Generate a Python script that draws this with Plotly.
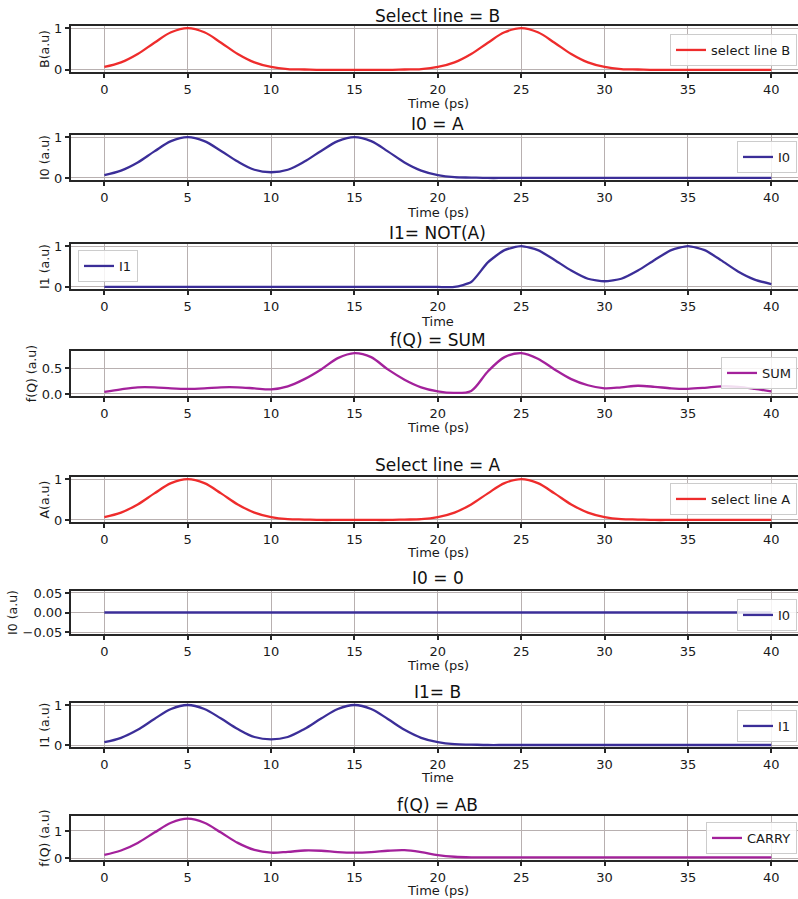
import plotly.graph_objects as go

W, H = 798, 899

time_ps = list(range(41))

select_b = [0.07, 0.18, 0.38, 0.65, 0.90, 1.00, 0.90, 0.65, 0.38, 0.18, 0.07,
            0.02, 0.01, 0.00, 0.00, 0.00, 0.00, 0.00, 0.01, 0.02, 0.07,
            0.18, 0.38, 0.65, 0.90, 1.00, 0.90, 0.65, 0.38, 0.18, 0.07,
            0.02, 0.01, 0.00, 0.00, 0.00, 0.00, 0.00, 0.00, 0.00, 0.00]
i0_a = [0.07, 0.18, 0.38, 0.65, 0.90, 1.00, 0.90, 0.66, 0.40, 0.20, 0.14,
        0.20, 0.40, 0.66, 0.90, 1.00, 0.90, 0.65, 0.38, 0.18, 0.07,
        0.02, 0.01, 0.00, 0.00, 0.00, 0.00, 0.00, 0.00, 0.00, 0.00,
        0.00, 0.00, 0.00, 0.00, 0.00, 0.00, 0.00, 0.00, 0.00, 0.00]
i1_not_a = [0.00, 0.00, 0.00, 0.00, 0.00, 0.00, 0.00, 0.00, 0.00, 0.00, 0.00,
            0.00, 0.00, 0.00, 0.00, 0.00, 0.00, 0.00, 0.00, 0.00, 0.00,
            0.00, 0.12, 0.60, 0.90, 1.00, 0.90, 0.66, 0.40, 0.20, 0.14,
            0.20, 0.40, 0.66, 0.90, 1.00, 0.90, 0.65, 0.38, 0.18, 0.07]
sum_q = [0.04, 0.09, 0.13, 0.13, 0.11, 0.10, 0.11, 0.13, 0.13, 0.11, 0.09,
         0.15, 0.29, 0.48, 0.70, 0.80, 0.72, 0.48, 0.28, 0.13, 0.05,
         0.02, 0.06, 0.44, 0.72, 0.80, 0.69, 0.48, 0.29, 0.17, 0.11,
         0.13, 0.16, 0.14, 0.11, 0.10, 0.12, 0.15, 0.14, 0.10, 0.05]
select_a = [0.07, 0.18, 0.38, 0.65, 0.90, 1.00, 0.90, 0.65, 0.38, 0.18, 0.07,
            0.02, 0.01, 0.00, 0.00, 0.00, 0.00, 0.00, 0.01, 0.02, 0.07,
            0.18, 0.38, 0.65, 0.90, 1.00, 0.90, 0.65, 0.38, 0.18, 0.07,
            0.02, 0.01, 0.00, 0.00, 0.00, 0.00, 0.00, 0.00, 0.00, 0.00]
i0_zero = [0.00, 0.00, 0.00, 0.00, 0.00, 0.00, 0.00, 0.00, 0.00, 0.00, 0.00,
           0.00, 0.00, 0.00, 0.00, 0.00, 0.00, 0.00, 0.00, 0.00, 0.00,
           0.00, 0.00, 0.00, 0.00, 0.00, 0.00, 0.00, 0.00, 0.00, 0.00,
           0.00, 0.00, 0.00, 0.00, 0.00, 0.00, 0.00, 0.00, 0.00, 0.00]
i1_b = [0.07, 0.18, 0.38, 0.65, 0.90, 1.00, 0.90, 0.66, 0.40, 0.20, 0.14,
        0.20, 0.40, 0.66, 0.90, 1.00, 0.90, 0.65, 0.38, 0.18, 0.07,
        0.02, 0.01, 0.00, 0.00, 0.00, 0.00, 0.00, 0.00, 0.00, 0.00,
        0.00, 0.00, 0.00, 0.00, 0.00, 0.00, 0.00, 0.00, 0.00, 0.00]
carry = [0.12, 0.28, 0.56, 0.94, 1.30, 1.45, 1.30, 0.94, 0.56, 0.30, 0.20,
         0.23, 0.28, 0.27, 0.22, 0.20, 0.22, 0.27, 0.29, 0.22, 0.11,
         0.05, 0.03, 0.03, 0.03, 0.03, 0.03, 0.03, 0.03, 0.03, 0.03,
         0.03, 0.03, 0.03, 0.03, 0.03, 0.03, 0.03, 0.03, 0.03, 0.03]

titles = ["Select line = B", "I0 = A", "I1= NOT(A)", "f(Q) = SUM",
          "Select line = A", "I0 = 0", "I1= B", "f(Q) = AB"]
y_labels = ["B(a.u)", "I0 (a.u)", "I1 (a.u)", "f(Q) (a.u)",
            "A(a.u)", "I0 (a.u)", "I1 (a.u)", "f(Q) (a.u)"]
x_labels = ["Time (ps)", "Time (ps)", "Time", "Time (ps)",
            "Time (ps)", "Time (ps)", "Time", "Time (ps)"]
series_names = ["select line B", "I0", "I1", "SUM",
                "select line A", "I0", "I1", "CARRY"]
series_values = [select_b, i0_a, i1_not_a, sum_q, select_a, i0_zero, i1_b, carry]
x_ticks = [0, 5, 10, 15, 20, 25, 30, 35, 40]
y_tick_vals = [[0, 1], [0, 1], [0, 1], [0, 0.5], [0, 1], [-0.05, 0, 0.05], [0, 1], [0, 1]]
y_tick_text = [["0", "1"], ["0", "1"], ["0", "1"], ["0.0", "0.5"], ["0", "1"],
               ["\u22120.05", "0.00", "0.05"], ["0", "1"], ["0", "1"]]

RED, BLUE, PURPLE = "#ee2c2c", "#3b2e98", "#a3219b"
colors = [RED, BLUE, BLUE, PURPLE, RED, BLUE, BLUE, PURPLE]
smooth = [1.0, 1.0, 0.6, 0.9, 1.0, 1.0, 1.0, 1.0]
y_ranges = [[-0.05, 1.05], [-0.05, 1.05], [-0.05, 1.05], [-0.04, 0.84],
            [-0.05, 1.05], [-0.055, 0.055], [-0.05, 1.05], [-0.07, 1.55]]
# panel frames in pixels (top, bottom)
frames = [(26, 72), (135, 180), (244, 289), (351, 396),
          (477, 522), (591, 634), (703, 747), (816, 860)]
title_px = [16, 124, 233, 340, 465, 578, 692, 805]
xlabel_px = [104, 212, 321, 427, 552, 665, 777, 890]
legend_top_px = [34, 141, 250, 357, 483, 599, 710, 822]
legend_left = [False, False, True, False, False, False, False, False]

L = 71
FONT = "DejaVu Sans"
GRID = "#b8b0b0"
AX = "#262626"

fig = go.Figure()
layout = dict(
    width=W, height=H,
    margin=dict(l=L, r=0, t=0, b=0, autoexpand=False),
    paper_bgcolor="white", plot_bgcolor="white",
    font=dict(family=FONT, size=12, color="#1a1a1a"),
    annotations=[],
)

for i in range(8):
    n = i + 1
    xa = "x" if n == 1 else f"x{n}"
    ya = "y" if n == 1 else f"y{n}"
    lg = "legend" if n == 1 else f"legend{n}"
    fig.add_trace(go.Scatter(
        x=time_ps, y=series_values[i], mode="lines", name=series_names[i],
        line=dict(color=colors[i], width=2.3, shape="spline", smoothing=smooth[i]),
        xaxis=xa, yaxis=ya, legend=lg, showlegend=True,
    ))
    top, bot = frames[i]
    layout[f"xaxis{n}"] = dict(
        domain=[0, 1], range=[-2, 41.6], anchor=ya, automargin=False,
        tickvals=x_ticks, ticks="outside", ticklen=4, tickwidth=1.5, tickcolor=AX,
        showline=True, linecolor=AX, linewidth=2, mirror=True,
        showgrid=True, gridcolor=GRID, gridwidth=1.2, zeroline=False,
        tickfont=dict(size=13, family=FONT, color="#1a1a1a"),
    )
    layout[f"yaxis{n}"] = dict(
        domain=[1 - bot / H, 1 - top / H], range=y_ranges[i], anchor=xa,
        automargin=False,
        tickvals=y_tick_vals[i], ticktext=y_tick_text[i],
        ticks="outside", ticklen=4, tickwidth=1.5, tickcolor=AX,
        showline=True, linecolor=AX, linewidth=2, mirror=False,
        showgrid=True, gridcolor=GRID, gridwidth=1.2, zeroline=False,
        tickfont=dict(size=13, family=FONT, color="#1a1a1a"),
        title=dict(text=y_labels[i], font=dict(size=12.5, family=FONT), standoff=2),
    )
    layout["annotations"].append(dict(
        text=titles[i], x=20, xref=xa, y=1 - title_px[i] / H, yref="paper",
        xanchor="center", yanchor="middle", showarrow=False,
        font=dict(size=17, family=FONT, color="#111"),
    ))
    layout["annotations"].append(dict(
        text=x_labels[i], x=20, xref=xa, y=1 - xlabel_px[i] / H, yref="paper",
        xanchor="center", yanchor="middle", showarrow=False,
        font=dict(size=13, family=FONT, color="#1a1a1a"),
    ))
    leg = dict(
        y=1 - legend_top_px[i] / H, yanchor="top",
        bgcolor="rgba(255,255,255,0.85)", bordercolor="#cccccc", borderwidth=1,
        font=dict(size=13, family=FONT, color="#1a1a1a"), itemwidth=30,
        tracegroupgap=0,
    )
    if legend_left[i]:
        leg.update(x=(78 - L) / (W - L), xanchor="left")
    else:
        leg.update(x=(797 - L) / (W - L), xanchor="right")
    layout[lg] = leg

fig.update_layout(**layout)
fig.write_html(
    "out.html",
    config={"displayModeBar": False},
    post_script="document.body.style.margin='0';document.body.style.overflow='hidden';",
)
